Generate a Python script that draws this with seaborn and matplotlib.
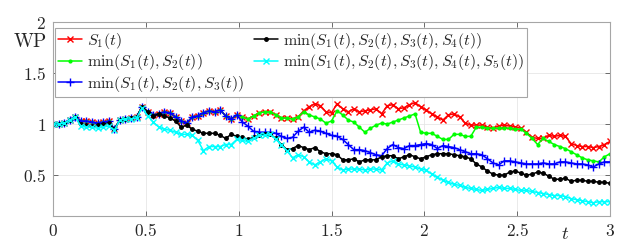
import numpy as np
import pandas as pd
import matplotlib
matplotlib.use("Agg")
import matplotlib.pyplot as plt
from matplotlib.ticker import FuncFormatter, FixedLocator
import seaborn as sns

# ---------------- data ----------------
t = np.round(np.arange(0, 3.0001, 0.03), 2)

s1 = [1.00, 1.00, 1.01, 1.04, 1.07, 1.03, 1.03, 1.02, 1.01, 1.02,
      1.03, 0.95, 1.04, 1.05, 1.06, 1.07, 1.17, 1.12, 1.09, 1.10,
      1.12, 1.11, 1.07, 1.03, 1.01, 1.07, 1.08, 1.11, 1.13, 1.12,
      1.14, 1.08, 1.05, 1.09, 1.07, 1.05, 1.08, 1.11, 1.12, 1.12,
      1.09, 1.06, 1.06, 1.05, 1.07, 1.13, 1.17, 1.20, 1.18, 1.12,
      1.11, 1.20, 1.15, 1.12, 1.15, 1.12, 1.13, 1.14, 1.15, 1.10,
      1.18, 1.19, 1.15, 1.16, 1.19, 1.21, 1.17, 1.14, 1.10, 1.07,
      1.04, 1.09, 1.10, 1.07, 1.01, 0.99, 0.99, 0.99, 0.97, 0.96,
      0.98, 0.99, 0.98, 0.97, 0.96, 0.92, 0.87, 0.86, 0.86, 0.89,
      0.88, 0.89, 0.88, 0.81, 0.79, 0.78, 0.78, 0.77, 0.78, 0.80,
      0.83]

s12 = [1.00, 1.00, 1.01, 1.04, 1.07, 1.03, 1.03, 1.02, 1.01, 1.02,
       1.03, 0.95, 1.04, 1.05, 1.06, 1.07, 1.17, 1.12, 1.09, 1.10,
       1.12, 1.11, 1.07, 1.03, 1.01, 1.07, 1.08, 1.11, 1.13, 1.12,
       1.14, 1.08, 1.05, 1.09, 1.07, 1.05, 1.08, 1.11, 1.12, 1.12,
       1.09, 1.06, 1.06, 1.05, 1.07, 1.12, 1.09, 1.07, 1.05, 1.01,
       1.03, 1.13, 1.09, 1.04, 1.02, 0.97, 0.92, 0.96, 0.99, 1.01,
       1.00, 1.02, 1.04, 1.06, 1.08, 1.10, 0.92, 0.91, 0.91, 0.88,
       0.85, 0.85, 0.90, 0.90, 0.88, 0.88, 0.97, 0.97, 0.96, 0.96,
       0.96, 0.96, 0.96, 0.95, 0.95, 0.91, 0.86, 0.80, 0.86, 0.83,
       0.80, 0.78, 0.76, 0.73, 0.70, 0.67, 0.65, 0.64, 0.63, 0.68,
       0.71]

s123 = [1.00, 1.00, 1.01, 1.04, 1.07, 1.03, 1.03, 1.02, 1.01, 1.02,
        1.03, 0.95, 1.04, 1.05, 1.06, 1.07, 1.17, 1.12, 1.09, 1.10,
        1.12, 1.11, 1.07, 1.03, 1.01, 1.07, 1.08, 1.11, 1.13, 1.12,
        1.14, 1.08, 1.05, 1.09, 1.02, 0.98, 0.93, 0.92, 0.92, 0.92,
        0.91, 0.88, 0.86, 0.87, 0.93, 0.97, 0.92, 0.94, 0.93, 0.91,
        0.89, 0.88, 0.85, 0.80, 0.75, 0.75, 0.74, 0.72, 0.70, 0.69,
        0.76, 0.80, 0.77, 0.76, 0.79, 0.79, 0.80, 0.81, 0.80, 0.76,
        0.79, 0.78, 0.77, 0.75, 0.73, 0.71, 0.71, 0.70, 0.66, 0.62,
        0.60, 0.64, 0.64, 0.63, 0.62, 0.61, 0.61, 0.61, 0.62, 0.61,
        0.61, 0.63, 0.63, 0.62, 0.61, 0.61, 0.60, 0.58, 0.61, 0.63,
        0.63]

s1234 = [1.00, 1.00, 1.01, 1.04, 1.07, 1.00, 0.99, 0.98, 0.99, 1.00,
         1.01, 0.95, 1.04, 1.05, 1.06, 1.07, 1.17, 1.12, 1.08, 1.10,
         1.08, 1.06, 1.03, 0.97, 0.99, 0.95, 0.93, 0.91, 0.91, 0.91,
         0.89, 0.86, 0.90, 0.88, 0.87, 0.85, 0.87, 0.89, 0.90, 0.90,
         0.86, 0.80, 0.75, 0.76, 0.79, 0.77, 0.75, 0.77, 0.73, 0.71,
         0.71, 0.70, 0.65, 0.65, 0.66, 0.63, 0.65, 0.65, 0.65, 0.68,
         0.69, 0.69, 0.66, 0.68, 0.70, 0.68, 0.66, 0.68, 0.70, 0.71,
         0.71, 0.71, 0.70, 0.69, 0.68, 0.66, 0.61, 0.58, 0.54, 0.51,
         0.50, 0.50, 0.53, 0.54, 0.52, 0.50, 0.51, 0.53, 0.52, 0.49,
         0.46, 0.46, 0.47, 0.44, 0.45, 0.45, 0.44, 0.44, 0.43, 0.43,
         0.42]

s12345 = [1.00, 1.00, 1.01, 1.04, 1.07, 0.98, 0.97, 0.97, 0.96, 0.97,
          0.98, 0.94, 1.04, 1.05, 1.05, 1.06, 1.16, 1.08, 1.02, 0.97,
          0.95, 0.94, 0.92, 0.90, 0.90, 0.89, 0.84, 0.74, 0.78, 0.78,
          0.78, 0.80, 0.80, 0.85, 0.84, 0.83, 0.86, 0.89, 0.89, 0.90,
          0.85, 0.80, 0.74, 0.67, 0.70, 0.68, 0.63, 0.60, 0.63, 0.66,
          0.64, 0.58, 0.55, 0.56, 0.56, 0.56, 0.55, 0.56, 0.56, 0.55,
          0.62, 0.64, 0.61, 0.60, 0.59, 0.58, 0.56, 0.55, 0.51, 0.48,
          0.45, 0.43, 0.41, 0.40, 0.38, 0.37, 0.36, 0.35, 0.36, 0.37,
          0.38, 0.37, 0.37, 0.36, 0.35, 0.35, 0.34, 0.33, 0.32, 0.31,
          0.30, 0.30, 0.29, 0.27, 0.26, 0.25, 0.24, 0.23, 0.24, 0.24,
          0.24]

labels = [r"$S_1(t)$",
          r"$\min(S_1(t),S_2(t))$",
          r"$\min(S_1(t),S_2(t),S_3(t))$",
          r"$\min(S_1(t),S_2(t),S_3(t),S_4(t))$",
          r"$\min(S_1(t),S_2(t),S_3(t),S_4(t),S_5(t))$"]
series = [s1, s12, s123, s1234, s12345]
colors = ["#ff0000", "#00ff00", "#0000ff", "#000000", "#00ffff"]
markers = ["x", ".", "+", ".", "x"]
msizes = [4, 4, 6, 5, 4]

x_ticks = [0, 0.5, 1, 1.5, 2, 2.5, 3]
y_ticks = [0.5, 1, 1.5, 2]

# ---------------- style ----------------
sns.set_theme(style="white")
plt.rcParams["font.family"] = ["DejaVu Serif"]
plt.rcParams["mathtext.fontset"] = "cm"

fig = plt.figure(figsize=(6.32, 2.48), dpi=100)
ax = fig.add_axes([53 / 632, 1 - 216 / 248, 557 / 632, 194 / 248])

for lab, vals, c, m, ms in zip(labels, series, colors, markers, msizes):
    df = pd.DataFrame({"t": t, "v": vals})
    sns.lineplot(data=df, x="t", y="v", ax=ax, color=c, marker=m,
                 markersize=ms, markeredgewidth=1.0, markeredgecolor=c,
                 linewidth=1.1, label=lab, sort=False, errorbar=None)

ax.set_xlim(0, 3)
ax.set_ylim(0.1, 2)
ax.xaxis.set_major_locator(FixedLocator(x_ticks))
ax.yaxis.set_major_locator(FixedLocator(y_ticks))
fmt = FuncFormatter(lambda v, p: f"${v:g}$")
ax.xaxis.set_major_formatter(fmt)
ax.yaxis.set_major_formatter(fmt)
ax.tick_params(axis="both", which="both", direction="in", length=3.5,
               width=0.6, color="#555555", labelsize=12.5, pad=5,
               top=True, right=True, bottom=True, left=True)
ax.grid(True, color="#e6e6e6", linewidth=0.6)
ax.set_axisbelow(True)
for sp in ax.spines.values():
    sp.set_color("#a6a6a6")
    sp.set_linewidth(0.8)
ax.set_xlabel("")
ax.set_ylabel("")

ax.text(-0.125, 1.80, r"$\mathrm{WP}$", fontsize=14, ha="center", va="center",
        transform=ax.transData, clip_on=False)
ax.text(2.76, -0.08, r"$t$", fontsize=13.5, ha="center", va="center",
        transform=ax.transData, clip_on=False)

leg = ax.legend(loc="upper left", bbox_to_anchor=(0.004, 0.97), ncol=2,
                fontsize=11.5, frameon=True, fancybox=False, framealpha=1,
                edgecolor="#a6a6a6", borderaxespad=0, handlelength=1.5,
                handletextpad=0.3, columnspacing=0.6, labelspacing=0.08,
                borderpad=0.2)
leg.get_frame().set_linewidth(0.8)

fig.savefig("out.png", dpi=100)
